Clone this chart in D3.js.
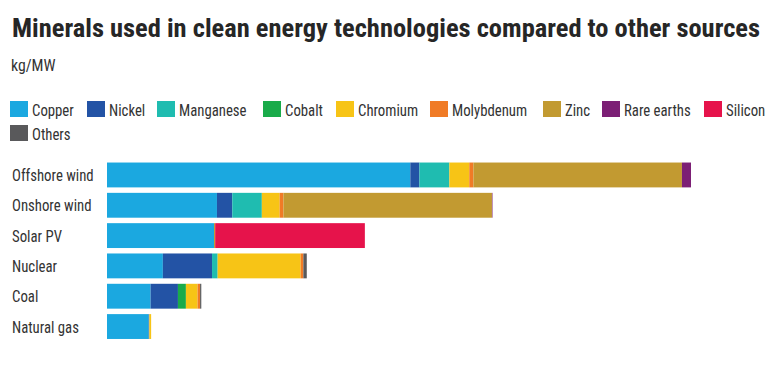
<!DOCTYPE html>
<html>
<head>
<meta charset="utf-8">
<script src="https://cdn.jsdelivr.net/npm/d3@7"></script>
<style>
  html, body { margin: 0; padding: 0; background: #ffffff; }
  svg { display: block; }
  text { font-family: "Liberation Sans Narrow", "Arial Narrow", "Roboto Condensed", Roboto, "Liberation Sans", sans-serif; }
</style>
</head>
<body>
<svg id="chart" width="774" height="367"></svg>
<script>
// ---- data (kg/MW) ----
const categories = ["Offshore wind", "Onshore wind", "Solar PV", "Nuclear", "Coal", "Natural gas"];
const minerals = ["Copper", "Nickel", "Manganese", "Cobalt", "Chromium", "Molybdenum", "Zinc", "Rare earths", "Silicon", "Others"];
const copper     = [8000, 2900, 2822, 1473, 1150, 1100];
const nickel     = [240, 404, 1, 1297, 721, 16];
const manganese  = [790, 780, 0, 148, 0, 0];
const cobalt     = [0, 0, 0, 0, 210, 0];
const chromium   = [525, 470, 0, 2190, 308, 48];
const molybdenum = [109, 99, 0, 71, 66, 0];
const zinc       = [5500, 5500, 30, 0, 0, 0];
const rareEarths = [239, 14, 0, 0, 0, 0];
const silicon    = [0, 0, 3948, 0, 0, 0];
const others     = [0, 0, 0, 90, 32, 0];
const colors = ["#1ba8e0", "#2353a5", "#1fbcb0", "#19ab4a", "#f7c416", "#f07b26", "#c29a31", "#7c1f75", "#e6134b", "#59595b"];

const seriesValues = [copper, nickel, manganese, cobalt, chromium, molybdenum, zinc, rareEarths, silicon, others];

const table = categories.map((c, i) => {
  const row = { category: c };
  minerals.forEach((m, j) => { row[m] = seriesValues[j][i]; });
  return row;
});

const svg = d3.select("#chart");
const SX = 0.87; // horizontal condensing for narrow face

// Title & subtitle
svg.append("text")
  .attr("x", 12).attr("y", 37)
  .attr("font-size", 26).attr("font-weight", "bold")
  .attr("fill", "#262626")
  .attr("textLength", 748).attr("lengthAdjust", "spacingAndGlyphs")
  .text("Minerals used in clean energy technologies compared to other sources");

svg.append("text")
  .attr("transform", "translate(11,71) scale(0.93,1)")
  .attr("font-size", 17).attr("fill", "#333")
  .text("kg/MW");

// Legend
const legendPos = [
  [10, 101], [87, 101], [157, 101], [263, 101], [336, 101],
  [430, 101], [543, 101], [602, 101], [704, 101], [10, 125]
];
const legend = svg.append("g");
minerals.forEach((m, i) => {
  const g = legend.append("g").attr("transform", `translate(${legendPos[i][0]},${legendPos[i][1]})`);
  g.append("rect").attr("width", 18).attr("height", 16).attr("fill", colors[i]);
  g.append("text").attr("transform", `translate(22,14.5) scale(${SX},1)`)
    .attr("font-size", 17).attr("fill", "#333").text(m);
});

// Scales
const stack = d3.stack().keys(minerals);
const stacked = stack(table);
const maxTotal = d3.max(table, d => d3.sum(minerals, m => d[m]));

const x = d3.scaleLinear().domain([0, maxTotal]).range([107, 691]);
const y = d3.scaleBand().domain(categories).range([159.5, 342]).paddingInner(0.18).paddingOuter(0.1);

const color = d3.scaleOrdinal().domain(minerals).range(colors);

svg.append("g").selectAll("g")
  .data(stacked)
  .join("g")
  .attr("fill", d => color(d.key))
  .selectAll("rect")
  .data(d => d)
  .join("rect")
  .attr("x", d => x(d[0]))
  .attr("y", d => y(d.data.category))
  .attr("width", d => Math.max(0, x(d[1]) - x(d[0])))
  .attr("height", y.bandwidth());

// Category labels
svg.append("g").selectAll("text")
  .data(categories)
  .join("text")
  .attr("transform", d => `translate(12,${y(d) + y.bandwidth() / 2 + 6}) scale(${SX},1)`)
  .attr("font-size", 17)
  .attr("fill", "#333")
  .text(d => d);
</script>
</body>
</html>
